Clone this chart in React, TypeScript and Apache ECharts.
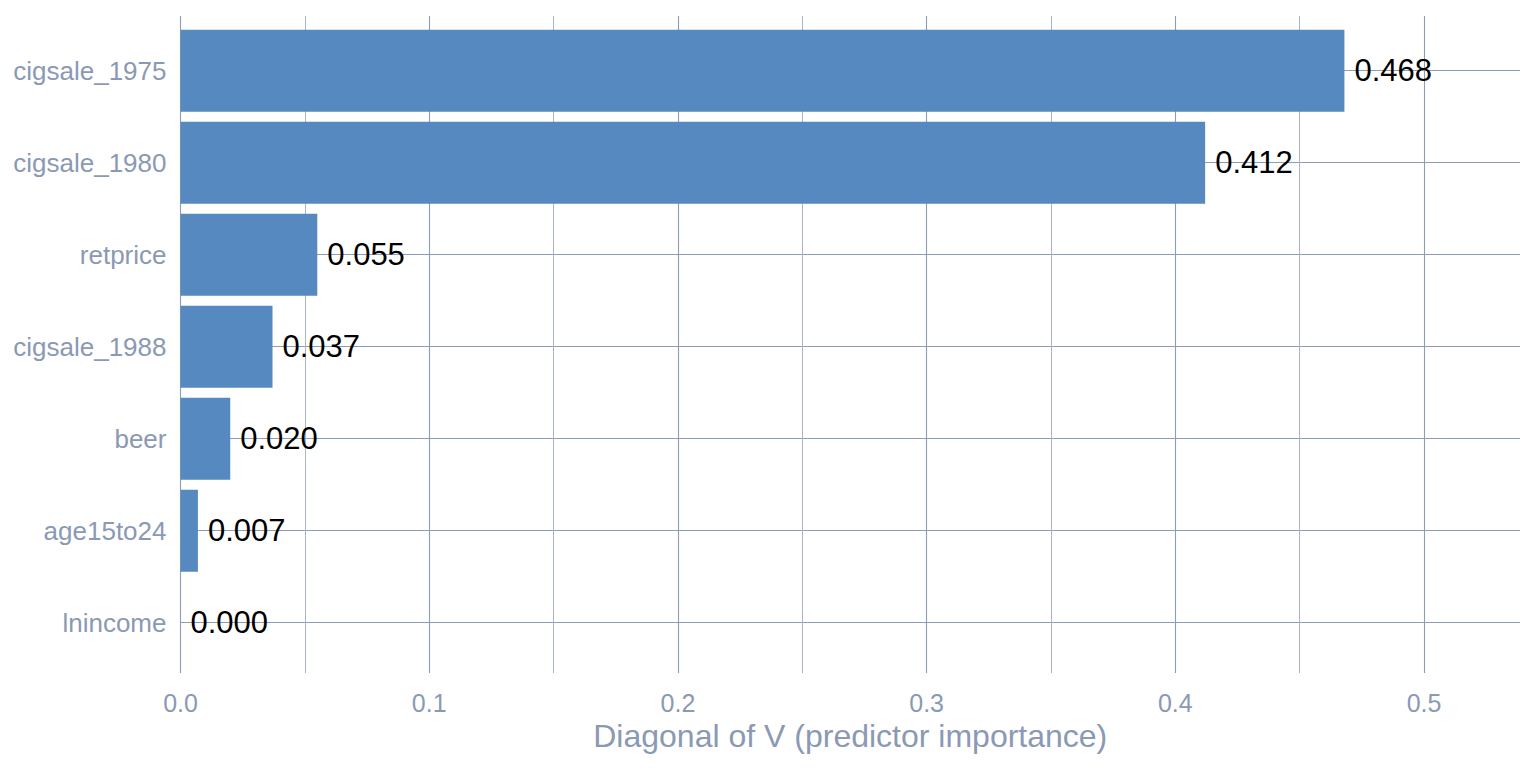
import React, { useEffect, useRef } from "react";
import * as echarts from "echarts";

const categories = ["cigsale_1975", "cigsale_1980", "retprice", "cigsale_1988", "beer", "age15to24", "lnincome"];
const importance = [0.468, 0.412, 0.055, 0.037, 0.02, 0.007, 0.0];
const axisTitle = "Diagonal of V (predictor importance)";

const FONT = "'Liberation Sans', Arial, Helvetica, sans-serif";
const TEXT_GREY = "#8A99B4";
const GRID_MAJOR = "#8F9CB5";
const GRID_MINOR = "#AAB5C8";
const BAR = "#5689C0";

export default function App() {
  const ref = useRef<HTMLDivElement>(null);
  useEffect(() => {
    if (!ref.current) return;
    const chart = echarts.init(ref.current, null, { renderer: "svg" });
    const xMax = 0.5386;
    chart.setOption({
      animation: false,
      backgroundColor: "#ffffff",
      textStyle: { fontFamily: FONT },
      grid: [
        { left: 180.5, right: 16, top: 16, bottom: 95, containLabel: false },
        { left: 180.5, right: 16, top: 70.7, bottom: 145.3, containLabel: false },
      ],
      xAxis: [
        {
          gridIndex: 0,
          type: "value",
          min: 0,
          max: xMax,
          interval: 0.1,
          axisLine: { show: false },
          axisTick: { show: false },
          axisLabel: {
            color: TEXT_GREY,
            fontSize: 25,
            fontFamily: FONT,
            margin: 17,
            showMaxLabel: false,
            formatter: (v: number) => v.toFixed(1),
          },
          splitLine: {
            show: true,
            lineStyle: {
              color: [GRID_MAJOR, GRID_MAJOR, GRID_MAJOR, GRID_MAJOR, GRID_MAJOR, GRID_MAJOR, "rgba(0,0,0,0)"],
              width: 1.1,
            },
          },
          minorTick: { show: false, splitNumber: 2 },
          minorSplitLine: { show: true, lineStyle: { color: GRID_MINOR, width: 1 } },
          name: axisTitle,
          nameLocation: "middle",
          nameGap: 47,
          nameTextStyle: { color: TEXT_GREY, fontSize: 32, fontFamily: FONT },
        },
        {
          gridIndex: 1,
          type: "value",
          min: 0,
          max: xMax,
          show: false,
        },
      ],
      yAxis: [
        {
          gridIndex: 0,
          type: "value",
          show: false,
        },
        {
          gridIndex: 1,
          type: "category",
          inverse: true,
          boundaryGap: false,
          data: categories,
          axisLine: { show: false },
          axisTick: { show: false },
          axisLabel: {
            interval: 0,
            color: TEXT_GREY,
            fontSize: 26,
            fontFamily: FONT,
            margin: 14,
          },
          splitLine: { show: true, interval: 0, lineStyle: { color: GRID_MAJOR, width: 1.1 } },
        },
      ],
      series: [
        {
          type: "bar",
          xAxisIndex: 1,
          yAxisIndex: 1,
          data: importance,
          barWidth: 82,
          clip: false,
          itemStyle: { color: BAR },
          label: {
            show: true,
            position: "right",
            distance: 10,
            color: "#000000",
            fontSize: 31,
            fontFamily: FONT,
            formatter: (p: any) => Number(p.value).toFixed(3),
          },
        },
      ],
    });
    return () => chart.dispose();
  }, []);
  return (
    <div
      ref={ref}
      style={{ position: "fixed", left: 0, top: 0, width: 1536, height: 768 }}
    />
  );
}
